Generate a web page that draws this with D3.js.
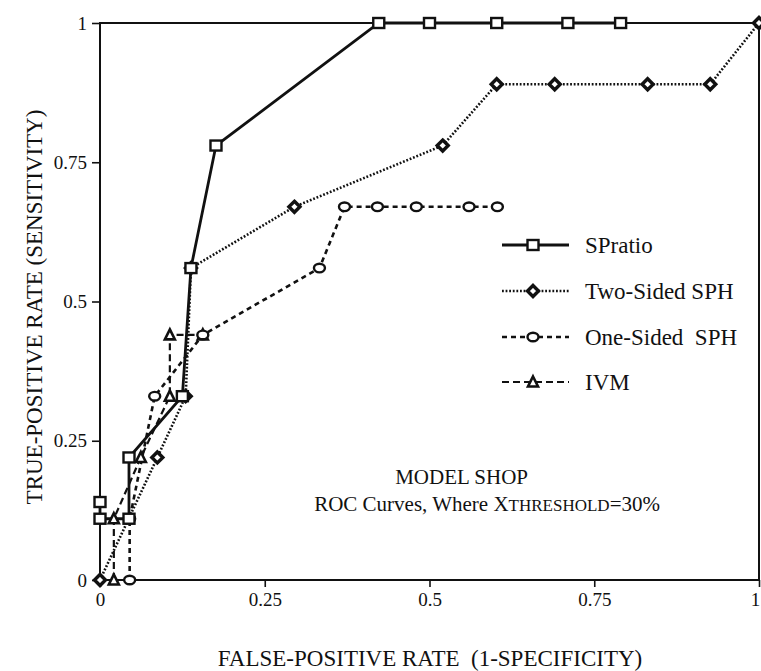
<!DOCTYPE html>
<html>
<head>
<meta charset="utf-8">
<script src="https://cdn.jsdelivr.net/npm/d3@7/dist/d3.min.js"></script>
<style>
  html, body { margin: 0; padding: 0; background: #fff; }
  svg { display: block; }
  text { font-family: "Liberation Serif", "Times New Roman", serif; fill: #111; white-space: pre; }
</style>
</head>
<body>
<svg id="chart" width="761" height="671"></svg>
<script>
// ---- data ----
const xTicks = [0, 0.25, 0.5, 0.75, 1];
const xTickLabels = ["0", "0.25", "0.5", "0.75", "1"];
const yTicks = [0, 0.25, 0.5, 0.75, 1];
const yTickLabels = ["0", "0.25", "0.5", "0.75", "1"];

const seriesNames = ["SPratio", "Two-Sided SPH", "One-Sided  SPH", "IVM"];

const sprFPR = [0, 0, 0.044, 0.044, 0.125, 0.138, 0.176, 0.423, 0.5, 0.602, 0.71, 0.79];
const sprTPR = [0.14, 0.11, 0.11, 0.22, 0.33, 0.56, 0.78, 1, 1, 1, 1, 1];

const twoFPR = [0, 0.087, 0.13, 0.138, 0.295, 0.52, 0.602, 0.69, 0.831, 0.926, 1];
const twoTPR = [0, 0.22, 0.33, 0.56, 0.67, 0.78, 0.89, 0.89, 0.89, 0.89, 1];

const oneFPR = [0.045, 0.045, 0.083, 0.156, 0.333, 0.371, 0.421, 0.48, 0.56, 0.603];
const oneTPR = [0, 0.11, 0.33, 0.44, 0.56, 0.67, 0.67, 0.67, 0.67, 0.67];

const ivmFPR = [0.021, 0.021, 0.062, 0.106, 0.106, 0.156];
const ivmTPR = [0, 0.11, 0.22, 0.33, 0.44, 0.44];

const noteLine1 = "MODEL SHOP";
const xTitle = "FALSE-POSITIVE RATE  (1-SPECIFICITY)";
const yTitle = "TRUE-POSITIVE RATE (SENSITIVITY)";

// ---- layout ----
const svg = d3.select("#chart");
const L = 100, R = 759, T = 23, B = 580;
const x = d3.scaleLinear().domain([0, 1]).range([L, R]);
const y = d3.scaleLinear().domain([0, 1]).range([B, T]);

// frame
svg.append("rect").attr("x", L).attr("y", T).attr("width", R - L).attr("height", B - T)
  .attr("fill", "none").attr("stroke", "#111").attr("stroke-width", 2);

// axes
const xAxis = d3.axisBottom(x).tickValues(xTicks).tickFormat((d, i) => xTickLabels[i]).tickSize(7).tickPadding(6);
const gx = svg.append("g").attr("transform", `translate(0,${B})`).call(xAxis);
gx.select(".domain").remove();
gx.selectAll("line").attr("stroke", "#111").attr("stroke-width", 1.6);
gx.selectAll("text").attr("font-size", 19).attr("font-family", "Liberation Serif").attr("fill", "#111");
gx.selectAll(".tick").filter(d => d === 1).select("text").attr("dx", -4);

const yAxis = d3.axisLeft(y).tickValues(yTicks).tickFormat((d, i) => yTickLabels[i]).tickSize(8).tickPadding(5);
const gy = svg.append("g").attr("transform", `translate(${L},0)`).call(yAxis);
gy.select(".domain").remove();
gy.selectAll("line").attr("stroke", "#111").attr("stroke-width", 1.6);
gy.selectAll("text").attr("font-size", 19).attr("font-family", "Liberation Serif").attr("fill", "#111");

// titles
svg.append("text").attr("x", 430).attr("y", 666).attr("text-anchor", "middle")
  .attr("font-size", 23).text(xTitle);
svg.append("text").attr("transform", `translate(42,307) rotate(-90)`).attr("text-anchor", "middle")
  .attr("font-size", 23).text(yTitle);

// series styling
const series = [
  { name: seriesNames[0], xs: sprFPR, ys: sprTPR, dash: null, width: 2.8, marker: "square" },
  { name: seriesNames[1], xs: twoFPR, ys: twoTPR, dash: "1.8,1.8", width: 2.6, marker: "diamond" },
  { name: seriesNames[2], xs: oneFPR, ys: oneTPR, dash: "5,4", width: 2.6, marker: "circle" },
  { name: seriesNames[3], xs: ivmFPR, ys: ivmTPR, dash: "7,4", width: 2.2, marker: "triangle" }
];

const line = d3.line().x(d => x(d[0])).y(d => y(d[1]));

function drawMarker(g, type, cx, cy) {
  if (type === "square") {
    g.append("rect").attr("x", cx - 5.5).attr("y", cy - 5).attr("width", 11).attr("height", 10)
      .attr("fill", "#fff").attr("stroke", "#111").attr("stroke-width", 2.4);
  } else if (type === "diamond") {
    g.append("path").attr("d", `M${cx},${cy-5.5}L${cx+5.5},${cy}L${cx},${cy+5.5}L${cx-5.5},${cy}Z`)
      .attr("fill", "#fff").attr("stroke", "#111").attr("stroke-width", 3.4);
  } else if (type === "circle") {
    g.append("ellipse").attr("cx", cx).attr("cy", cy).attr("rx", 5.5).attr("ry", 4.3)
      .attr("fill", "#fff").attr("stroke", "#111").attr("stroke-width", 2.4);
  } else if (type === "triangle") {
    g.append("path").attr("d", `M${cx},${cy-5.5}L${cx+5},${cy+4.5}L${cx-5},${cy+4.5}Z`)
      .attr("fill", "#fff").attr("stroke", "#111").attr("stroke-width", 2.6);
  }
}

series.slice().reverse().forEach(s => {
  const pts = s.xs.map((v, i) => [v, s.ys[i]]);
  svg.append("path").attr("d", line(pts)).attr("fill", "none")
    .attr("stroke", "#111").attr("stroke-width", s.width)
    .attr("stroke-dasharray", s.dash);
});
series.slice().reverse().forEach(s => {
  const g = svg.append("g");
  s.xs.forEach((v, i) => drawMarker(g, s.marker, x(v), y(s.ys[i])));
});

// legend
const legY = [245, 291, 337, 382];
series.forEach((s, i) => {
  const ly = legY[i];
  svg.append("line").attr("x1", 502).attr("x2", 569).attr("y1", ly).attr("y2", ly)
    .attr("stroke", "#111").attr("stroke-width", s.width).attr("stroke-dasharray", s.dash);
  drawMarker(svg, s.marker, 533, ly);
  svg.append("text").attr("x", 585).attr("y", ly + 8).attr("font-size", 23).text(s.name);
});

// annotation
svg.append("text").attr("x", 528).attr("y", 484).attr("text-anchor", "end")
  .attr("font-size", 21).text(noteLine1);
const t2 = svg.append("text").attr("x", 660).attr("y", 511).attr("text-anchor", "end").attr("font-size", 21);
t2.append("tspan").text("ROC Curves, Where X");
t2.append("tspan").attr("font-size", 17).text("THRESHOLD");
t2.append("tspan").text("=30%");
</script>
</body>
</html>
